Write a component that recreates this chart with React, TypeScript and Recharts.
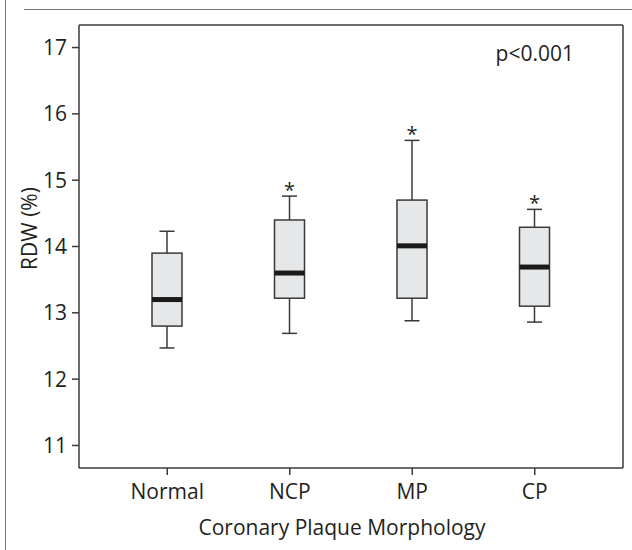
import {
  Bar,
  CartesianGrid,
  ComposedChart,
  Label,
  ReferenceDot,
  XAxis,
  YAxis,
} from "recharts";

const categories = ["Normal", "NCP", "MP", "CP"];
const mins = [12.47, 12.69, 12.88, 12.86];
const q1s = [12.8, 13.22, 13.22, 13.1];
const medians = [13.2, 13.6, 14.01, 13.69];
const q3s = [13.9, 14.4, 14.7, 14.29];
const maxs = [14.23, 14.76, 15.6, 14.56];
const significant = [false, true, true, true];
const yTicks = [11, 12, 13, 14, 15, 16, 17];

const data = categories.map((name, i) => ({
  name,
  min: mins[i],
  q1: q1s[i],
  median: medians[i],
  q3: q3s[i],
  max: maxs[i],
  star: significant[i],
}));

const FONT = "'Open Sans', sans-serif";
const INK = "#231f20";
const LINE = "#3a3a3a";

// range bar [min, max] -> draw whiskers, box, median inside its pixel span
function BoxShape(props: any) {
  const { x, y, width, height, payload } = props;
  const top = Math.min(y, y + height);
  const span = Math.abs(height);
  const { min, max } = payload;
  const py = (v: number) => top + (span * (max - v)) / (max - min);
  const cx = x + width / 2;
  const cap = 7.5;
  return (
    <g>
      <line x1={cx} x2={cx} y1={py(max)} y2={py(payload.q3)} stroke={LINE} strokeWidth={1.5} />
      <line x1={cx} x2={cx} y1={py(payload.q1)} y2={py(min)} stroke={LINE} strokeWidth={1.5} />
      <line x1={cx - cap} x2={cx + cap} y1={py(max)} y2={py(max)} stroke={LINE} strokeWidth={1.5} />
      <line x1={cx - cap} x2={cx + cap} y1={py(min)} y2={py(min)} stroke={LINE} strokeWidth={1.5} />
      <rect
        x={x}
        y={py(payload.q3)}
        width={width}
        height={py(payload.q1) - py(payload.q3)}
        fill="#e6e7e8"
        stroke={LINE}
        strokeWidth={1.5}
      />
      <line
        x1={x}
        x2={x + width}
        y1={py(payload.median)}
        y2={py(payload.median)}
        stroke="#1a1a1a"
        strokeWidth={5}
      />
      {payload.star && (
        <text x={cx} y={py(max) + 1} textAnchor="middle" fontSize={20} fontFamily={FONT} fill={INK}>
          *
        </text>
      )}
    </g>
  );
}

export default function App() {
  return (
    <div
      style={{
        position: "absolute",
        top: 0,
        left: 0,
        width: 632,
        height: 550,
        background: "#fff",
      }}
    >
      <div
        style={{
          position: "absolute",
          left: 5,
          top: 0,
          width: 0,
          height: 550,
          borderLeft: "1.5px solid #777",
        }}
      />
      <div
        style={{
          position: "absolute",
          left: 24,
          top: 9,
          width: 608,
          height: 0,
          borderTop: "1.5px solid #777",
        }}
      />
      <ComposedChart
        width={632}
        height={550}
        data={data}
        margin={{ top: 25, right: 9, bottom: 52, left: 19 }}
        style={{ position: "absolute", top: 0, left: 0 }}
      >
        {/* top and right edges of the frame */}
        <CartesianGrid
          stroke={LINE}
          strokeWidth={1.5}
          horizontalCoordinatesGenerator={({ offset }: any) => [offset.top]}
          verticalCoordinatesGenerator={({ offset }: any) => [offset.left + offset.width]}
        />
        <XAxis
          dataKey="name"
          padding={{ left: 27, right: 27 }}
          height={30}
          tickSize={7}
          tickMargin={9}
          stroke={LINE}
          strokeWidth={1.5}
          tick={{ fontSize: 21, fontFamily: FONT, fill: INK }}
        >
          <Label
            content={({ viewBox }: any) => (
              <text
                x={viewBox.x + viewBox.width / 2 - 9}
                y={535}
                textAnchor="middle"
                fontSize={21}
                fontFamily={FONT}
                fill={INK}
              >
                Coronary Plaque Morphology
              </text>
            )}
          />
        </XAxis>
        <YAxis
          domain={[10.66, 17.34]}
          ticks={yTicks}
          width={60}
          tickSize={7}
          tickMargin={5}
          stroke={LINE}
          strokeWidth={1.5}
          tick={{ fontSize: 21, fontFamily: FONT, fill: INK }}
        >
          <Label
            content={({ viewBox }: any) => (
              <text
                x={29}
                y={viewBox.y + viewBox.height / 2 - 18}
                transform={`rotate(-90, 29, ${viewBox.y + viewBox.height / 2 - 18})`}
                textAnchor="middle"
                dominantBaseline="central"
                fontSize={21}
                fontFamily={FONT}
                fill={INK}
              >
                RDW (%)
              </text>
            )}
          />
        </YAxis>
        <Bar
          dataKey={(d: any) => [d.min, d.max]}
          barSize={30}
          shape={<BoxShape />}
          isAnimationActive={false}
        />
        <ReferenceDot x="CP" y={16.91} r={0} fill="none" stroke="none">
          <Label
            value="p<0.001"
            position="center"
            fontSize={21}
            fontFamily={FONT}
            fill={INK}
          />
        </ReferenceDot>
      </ComposedChart>
    </div>
  );
}
